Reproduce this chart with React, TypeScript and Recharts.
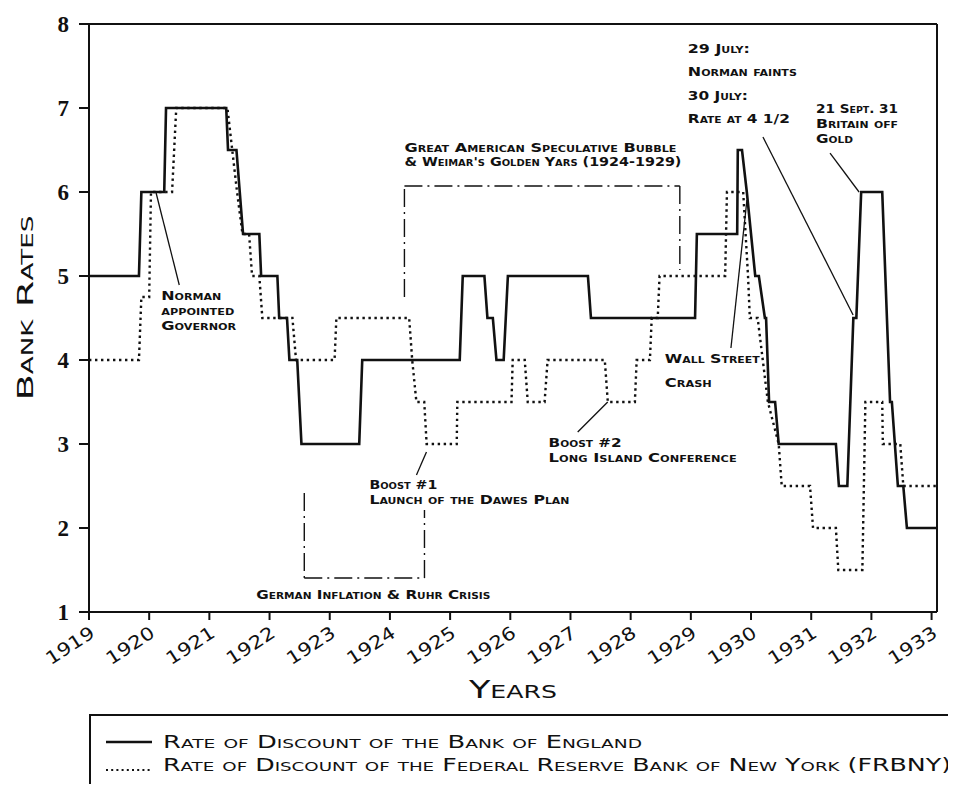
import React from 'react';
import { LineChart, Line, XAxis, YAxis, ReferenceLine, ReferenceDot, Legend } from 'recharts';

// ---- Data ----
const boeYears = [1919.0, 1919.83, 1919.87, 1920.25, 1920.28, 1921.28, 1921.31, 1921.45, 1921.56, 1921.83, 1921.86, 1922.13, 1922.16, 1922.29, 1922.33, 1922.46, 1922.53, 1923.49, 1923.54, 1925.16, 1925.21, 1925.57, 1925.62, 1925.71, 1925.77, 1925.89, 1925.96, 1927.29, 1927.34, 1929.07, 1929.1, 1929.77, 1929.78, 1929.85, 1929.93, 1930.07, 1930.13, 1930.23, 1930.25, 1930.3, 1930.4, 1930.46, 1931.41, 1931.46, 1931.6, 1931.7, 1931.75, 1931.83, 1932.18, 1932.31, 1932.34, 1932.44, 1932.53, 1932.59, 1933.09];
const boeRates = [5, 5, 6, 6, 7, 7, 6.5, 6.5, 5.5, 5.5, 5, 5, 4.5, 4.5, 4, 4, 3, 3, 4, 4, 5, 5, 4.5, 4.5, 4, 4, 5, 5, 4.5, 4.5, 5.5, 5.5, 6.5, 6.5, 6, 5, 5, 4.5, 4.5, 3.5, 3.5, 3, 3, 2.5, 2.5, 4.5, 4.5, 6, 6, 3.5, 3.5, 2.5, 2.5, 2, 2];

const fedYears = [1919.0, 1919.83, 1919.87, 1920.0, 1920.03, 1920.38, 1920.45, 1921.3, 1921.38, 1921.46, 1921.55, 1921.66, 1921.71, 1921.83, 1921.88, 1922.38, 1922.44, 1923.08, 1923.11, 1924.32, 1924.37, 1924.44, 1924.57, 1924.61, 1925.11, 1925.12, 1926.02, 1926.04, 1926.24, 1926.29, 1926.57, 1926.62, 1927.57, 1927.62, 1928.07, 1928.1, 1928.32, 1928.35, 1928.45, 1928.48, 1929.57, 1929.6, 1929.87, 1929.95, 1929.98, 1930.11, 1930.28, 1930.46, 1930.51, 1930.98, 1931.03, 1931.41, 1931.45, 1931.85, 1931.9, 1932.18, 1932.19, 1932.48, 1932.53, 1933.09];
const fedRates = [4, 4, 4.75, 4.75, 6, 6, 7, 7, 6.5, 6, 5.5, 5.5, 5, 5, 4.5, 4.5, 4, 4, 4.5, 4.5, 4, 3.5, 3.5, 3, 3, 3.5, 3.5, 4, 4, 3.5, 3.5, 4, 4, 3.5, 3.5, 4, 4, 4.5, 4.5, 5, 5, 6, 6, 5, 4.5, 4.5, 3.5, 3, 2.5, 2.5, 2, 2, 1.5, 1.5, 3.5, 3.5, 3, 3, 2.5, 2.5];

const yearTicks = [1919, 1920, 1921, 1922, 1923, 1924, 1925, 1926, 1927, 1928, 1929, 1930, 1931, 1932, 1933];
const rateTicks = [1, 2, 3, 4, 5, 6, 7, 8];
const xDomain: [number, number] = [1919, 1933.09];
const yDomain: [number, number] = [1, 8];

const seriesNames = [
  'Rate of Discount of the Bank of England',
  'Rate of Discount of the Federal Reserve Bank of New York (FRBNY)',
];
const axisTitles = { x: 'Years', y: 'Bank Rates' };

// Annotation texts (anchor = first baseline, in year / rate units)
const noteYears = [1920.2, 1924.241, 1923.659, 1921.779, 1926.637, 1928.567, 1928.95, 1931.08];
const noteRates = [4.714, 6.476, 2.464, 1.155, 2.964, 3.964, 7.655, 6.94];
const noteLines = [
  ['Norman', 'appointed', 'Governor'],
  ['Great American Speculative Bubble', "& Weimar's Golden Yars (1924-1929)"],
  ['Boost #1', 'Launch of the Dawes Plan'],
  ['German Inflation & Ruhr Crisis'],
  ['Boost #2', 'Long Island Conference'],
  ['Wall Street', 'Crash'],
  ['29 July:', 'Norman faints', '30 July:', 'Rate at 4 1/2'],
  ['21 Sept. 31', 'Britain off', 'Gold'],
];
const noteWidths = [
  [60, 73, 75],
  [272, 277],
  [68, 200],
  [234],
  [73, 188],
  [95, 47],
  [62, 109, 60, 102],
  [82, 82, 37],
];
const noteGaps = [15, 14, 15, 0, 15, 24, 23.3, 15];

// Pointer lines: [year1, rate1, year2, rate2]
const pointerLines = [
  [1920.115, 5.988, 1920.5, 4.893],
  [1924.607, 2.905, 1924.441, 2.631],
  [1927.619, 3.5, 1927.12, 3.143],
  [1929.932, 5.905, 1929.666, 4.143],
  [1930.198, 6.655, 1931.696, 4.536],
  [1931.313, 6.464, 1931.795, 6.0],
];

// Period boxes (dash-dot): [yearLeft, rateLeftEnd, yearRight, rateRightEnd, rateEdge]
const periodBoxes = [
  [1924.241, 4.75, 1928.817, 5.071, 6.071],
  [1922.577, 2.417, 1924.574, 2.214, 1.405],
];

const boeData = boeYears.map((year, i) => ({ year, rate: boeRates[i] }));
const fedData = fedYears.map((year, i) => ({ year, rate: fedRates[i] }));

const INK = '#111';
const NOTE_FONT = "'DejaVu Sans', sans-serif";

const YearTick = (props: any) => {
  const { x, y, payload } = props;
  const tx = x + 7;
  const ty = y + 16;
  return (
    <text
      x={tx}
      y={ty}
      transform={`rotate(-33, ${tx}, ${ty})`}
      textAnchor="end"
      fontFamily={NOTE_FONT}
      fontSize={18}
      fill={INK}
      textLength={54}
      lengthAdjust="spacingAndGlyphs"
    >
      {payload.value}
    </text>
  );
};

const RateTick = (props: any) => {
  const { x, y, payload } = props;
  return (
    <text x={x} y={y + 8} textAnchor="end" fontFamily="'Liberation Serif', serif" fontWeight={700} fontSize={23} fill={INK}>
      {payload.value}
    </text>
  );
};

const makeNoteShape = (idx: number) => (p: any) => {
  const lines = noteLines[idx];
  return (
    <g>
      {lines.map((l, i) => (
        <text
          key={i}
          x={p.cx}
          y={p.cy + i * noteGaps[idx]}
          fontFamily={NOTE_FONT}
          fontWeight={700}
          fontSize={13}
          fill={INK}
          style={{ fontVariant: 'small-caps' }}
          textLength={noteWidths[idx][i]}
          lengthAdjust="spacingAndGlyphs"
        >
          {l}
        </text>
      ))}
    </g>
  );
};

const XTitle = (props: any) => {
  const { viewBox } = props;
  const cx = viewBox.x + viewBox.width / 2;
  return (
    <text
      x={cx}
      y={viewBox.y + 86}
      textAnchor="middle"
      fontFamily={NOTE_FONT}
      fontSize={25}
      fill={INK}
      style={{ fontVariant: 'small-caps' }}
      textLength={88}
      lengthAdjust="spacingAndGlyphs"
    >
      {axisTitles.x}
    </text>
  );
};

const YTitle = () => {
  const tx = 25;
  const ty = 300;
  return (
    <text
      x={tx}
      y={ty}
      transform={`rotate(-90, ${tx}, ${ty})`}
      textAnchor="middle"
      fontFamily={NOTE_FONT}
      fontSize={22}
      fill={INK}
      style={{ fontVariant: 'small-caps' }}
      textLength={185}
      lengthAdjust="spacingAndGlyphs"
    >
      {axisTitles.y}
    </text>
  );
};

const LegendBox = () => (
  <svg width={900} height={100} style={{ display: 'block', overflow: 'visible' }}>
    <rect x={1} y={1} width={920} height={140} fill="none" stroke={INK} strokeWidth={2} />
    <line x1={17} x2={63} y1={28} y2={28} stroke={INK} strokeWidth={2.4} />
    <text
      x={74}
      y={34}
      fontFamily={NOTE_FONT}
      fontSize={18}
      fill={INK}
      style={{ fontVariant: 'small-caps' }}
      textLength={479}
      lengthAdjust="spacingAndGlyphs"
    >
      {seriesNames[0]}
    </text>
    <line x1={17} x2={61} y1={56} y2={56} stroke={INK} strokeWidth={2.2} strokeDasharray="2 3.2" />
    <text
      x={74}
      y={57}
      fontFamily={NOTE_FONT}
      fontSize={18}
      fill={INK}
      style={{ fontVariant: 'small-caps' }}
      textLength={788}
      lengthAdjust="spacingAndGlyphs"
    >
      {seriesNames[1]}
    </text>
  </svg>
);

export default function App() {
  return (
    <div style={{ width: 948, height: 784, overflow: 'hidden', marginBottom: -8, background: '#fff' }}>
      <LineChart width={948} height={784} margin={{ top: 16, right: 19, left: 41, bottom: 120 }}>
        <XAxis
          dataKey="year"
          type="number"
          domain={xDomain}
          ticks={yearTicks}
          interval={0}
          allowDataOverflow
          height={60}
          tickSize={8}
          tickMargin={0}
          axisLine={{ stroke: INK, strokeWidth: 2 }}
          tickLine={{ stroke: INK, strokeWidth: 2 }}
          tick={<YearTick />}
          label={<XTitle />}
        />
        <YAxis
          type="number"
          domain={yDomain}
          ticks={rateTicks}
          interval={0}
          allowDataOverflow
          width={40}
          tickSize={10}
          tickMargin={10}
          axisLine={{ stroke: INK, strokeWidth: 2 }}
          tickLine={{ stroke: INK, strokeWidth: 2 }}
          tick={<RateTick />}
          label={<YTitle />}
        />
        <ReferenceLine y={8} stroke={INK} strokeWidth={2} />
        <ReferenceLine x={xDomain[1]} stroke={INK} strokeWidth={2} />

        {periodBoxes.map((b, i) => (
          <React.Fragment key={`box${i}`}>
            <ReferenceLine segment={[{ x: b[0], y: b[1] }, { x: b[0], y: b[4] }]} stroke={INK} strokeWidth={1.4} strokeDasharray="18 5 2 5" />
            <ReferenceLine segment={[{ x: b[0], y: b[4] }, { x: b[2], y: b[4] }]} stroke={INK} strokeWidth={1.4} strokeDasharray="18 5 2 5" />
            <ReferenceLine segment={[{ x: b[2], y: b[4] }, { x: b[2], y: b[3] }]} stroke={INK} strokeWidth={1.4} strokeDasharray="18 5 2 5" />
          </React.Fragment>
        ))}
        {pointerLines.map((p, i) => (
          <ReferenceLine key={`ptr${i}`} segment={[{ x: p[0], y: p[1] }, { x: p[2], y: p[3] }]} stroke={INK} strokeWidth={1.3} />
        ))}

        <Line
          data={boeData}
          dataKey="rate"
          name={seriesNames[0]}
          type="linear"
          stroke={INK}
          strokeWidth={2.6}
          dot={false}
          activeDot={false}
          isAnimationActive={false}
        />
        <Line
          data={fedData}
          dataKey="rate"
          name={seriesNames[1]}
          type="linear"
          stroke={INK}
          strokeWidth={2.4}
          strokeDasharray="2.4 3.6"
          dot={false}
          activeDot={false}
          isAnimationActive={false}
        />

        {noteYears.map((yr, i) => (
          <ReferenceDot key={`note${i}`} x={yr} y={noteRates[i]} r={0} shape={makeNoteShape(i)} />
        ))}

        <Legend
          layout="vertical"
          align="center"
          verticalAlign="middle"
          wrapperStyle={{ left: 81, top: 706, width: 900, height: 100 }}
          content={<LegendBox />}
        />
      </LineChart>
    </div>
  );
}
